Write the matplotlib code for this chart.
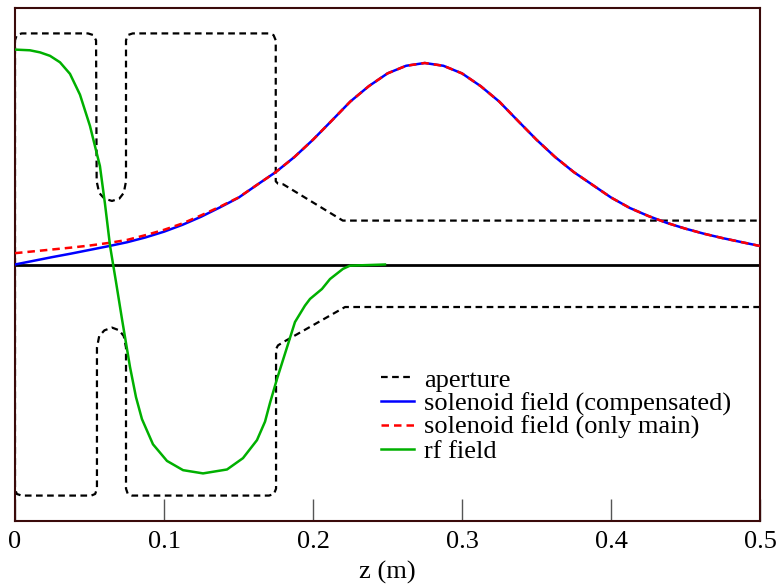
import matplotlib
matplotlib.use("Agg")
import matplotlib.pyplot as plt

plt.rcParams['font.family'] = ['Liberation Serif', 'DejaVu Serif']

# aperture outline, one path: lower side right->left, then upper side left->right
aperture_z = [0.5, 0.2215, 0.180, 0.1765, 0.1752, 0.1752, 0.1738, 0.1705,
              0.0785, 0.0757, 0.0745, 0.0745, 0.0730, 0.0700, 0.0651, 0.0600,
              0.0565, 0.0550, 0.0550, 0.0538, 0.0512, 0.0045, 0.0012, 0.0,
              0.0, 0.0012, 0.0045, 0.0490, 0.0525, 0.0544, 0.0548, 0.0565,
              0.0600, 0.0651, 0.0700, 0.0730, 0.0745, 0.0745, 0.0757, 0.0790,
              0.1700, 0.1735, 0.1750, 0.1750, 0.1765, 0.1800, 0.2200, 0.5]
aperture_y = [-0.184, -0.184, -0.336, -0.350, -0.366, -0.970, -0.993, -1.0,
              -1.0, -0.993, -0.970, -0.360, -0.310, -0.285, -0.273, -0.285,
              -0.310, -0.360, -0.970, -0.993, -1.0, -1.0, -0.993, -0.970,
              0.970, 0.993, 1.0, 1.0, 0.993, 0.970, 0.360, 0.310,
              0.285, 0.275, 0.285, 0.310, 0.360, 0.970, 0.993, 1.0,
              1.0, 0.993, 0.970, 0.360, 0.350, 0.347, 0.190, 0.190]

# solenoid field
sol_z = [0.0, 0.0125, 0.025, 0.0375, 0.05, 0.0625, 0.075, 0.0875, 0.1, 0.1125,
         0.125, 0.1375, 0.15, 0.1625, 0.175, 0.1875, 0.2, 0.2125, 0.225, 0.2375,
         0.25, 0.2625, 0.275, 0.2875, 0.3, 0.3125, 0.325, 0.3375, 0.35, 0.3625,
         0.375, 0.3875, 0.4, 0.4125, 0.425, 0.4375, 0.45, 0.4625, 0.475, 0.4875, 0.5]
sol_main = [0.049, 0.057, 0.065, 0.073, 0.082, 0.093, 0.106, 0.127, 0.150, 0.178,
            0.213, 0.250, 0.290, 0.345, 0.400, 0.465, 0.540, 0.622, 0.705, 0.772,
            0.827, 0.860, 0.872, 0.860, 0.827, 0.772, 0.705, 0.622, 0.540, 0.465,
            0.400, 0.345, 0.290, 0.245, 0.210, 0.180, 0.155, 0.133, 0.114, 0.097, 0.080]
sol_comp = [0.0, 0.016, 0.032, 0.047, 0.063, 0.079, 0.096, 0.117, 0.142, 0.172,
            0.207, 0.247, 0.289, 0.345, 0.400, 0.465, 0.540, 0.622, 0.705, 0.772,
            0.827, 0.860, 0.872, 0.860, 0.827, 0.772, 0.705, 0.622, 0.540, 0.465,
            0.400, 0.345, 0.290, 0.245, 0.210, 0.180, 0.155, 0.133, 0.114, 0.097, 0.080]

# rf field
rf_z = [0.0, 0.0100, 0.0168, 0.0235, 0.0302, 0.0369, 0.0436, 0.0503, 0.0570,
        0.0604, 0.0638, 0.0678, 0.0718, 0.0772, 0.0812, 0.0852, 0.0926, 0.1020,
        0.1128, 0.1262, 0.1423, 0.1530, 0.1624, 0.1678, 0.1711, 0.1758, 0.1839,
        0.1879, 0.1946, 0.1980, 0.2060, 0.2114, 0.2201, 0.2248, 0.2483]
rf_y = [0.930, 0.927, 0.918, 0.903, 0.875, 0.825, 0.735, 0.600, 0.426,
        0.262, 0.080, -0.076, -0.236, -0.444, -0.574, -0.669, -0.778, -0.850,
        -0.890, -0.904, -0.887, -0.838, -0.760, -0.680, -0.600, -0.496, -0.331,
        -0.249, -0.178, -0.149, -0.106, -0.063, -0.019, -0.005, 0.0]

xticks = [0, 0.1, 0.2, 0.3, 0.4, 0.5]
xtick_labels = ['0', '0.1', '0.2', '0.3', '0.4', '0.5']


def main():
    fig = plt.figure(figsize=(7.8, 5.86), dpi=100)
    ax = fig.add_axes([15 / 780, 65 / 586, 745 / 780, 513 / 586])

    ax.axhline(0, color='black', lw=2, zorder=1)
    ax.plot(aperture_z, aperture_y, color='black', lw=1.6, ls=(0, (3, 2)),
            label='aperture', zorder=2)
    ax.plot(sol_z, sol_comp, color='#0000ff', lw=1.8,
            label='solenoid field (compensated)', zorder=3)
    ax.plot(sol_z, sol_main, color='#ff0000', lw=1.8, ls=(0, (3, 2)),
            label='solenoid field (only main)', zorder=4)
    ax.plot(rf_z, rf_y, color='#00b000', lw=1.8, label='rf field', zorder=5)

    ax.set_xlim(0, 0.5)
    ax.set_ylim(-1.11, 1.11)
    ax.set_xticks(xticks)
    ax.set_xticklabels(xtick_labels, fontsize=19)
    ax.set_yticks([])
    ax.tick_params(axis='x', direction='in', length=16, width=1, color='#555555', pad=7)
    ax.set_xlabel('z (m)', fontsize=19, labelpad=6)
    for sp in ax.spines.values():
        sp.set_color('#3a0a0a')
        sp.set_linewidth(1.5)

    fig.legend(loc='upper left', bbox_to_anchor=(368 / 780, 1 - 355 / 586),
               frameon=False, fontsize=19, handlelength=1.25, handletextpad=0.38,
               borderpad=0, labelspacing=0.0)

    fig.savefig('out.png', dpi=100)


if __name__ == '__main__':
    main()
